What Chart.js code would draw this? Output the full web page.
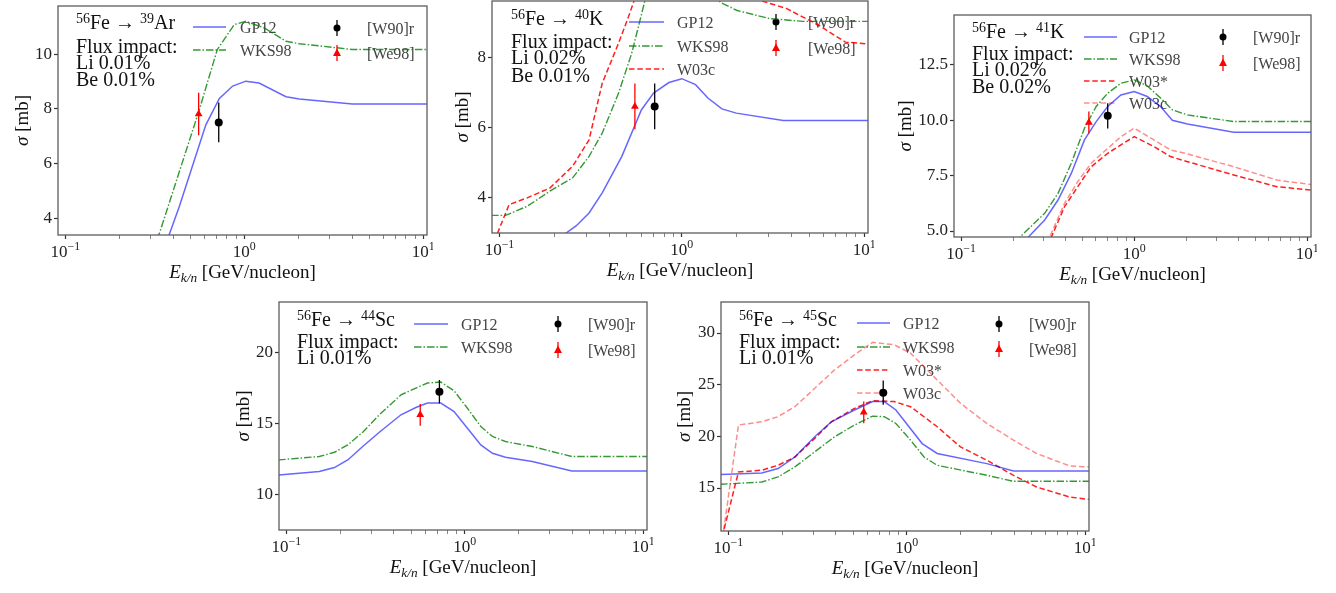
<!DOCTYPE html>
<html>
<head>
<meta charset="utf-8">
<script src="https://cdn.jsdelivr.net/npm/chart.js@4"></script>
<style>
  body { margin: 0; background: #fff; width: 1336px; height: 593px; position: relative; overflow: hidden; }
  canvas { position: absolute; }
</style>
</head>
<body>
<canvas id="c1"></canvas>
<canvas id="c2"></canvas>
<canvas id="c3"></canvas>
<canvas id="c4"></canvas>
<canvas id="c5"></canvas>
<script>
// x axis (E_k/n, GeV/nucleon), shared by all panels
const xRange = [0.091, 10.5];
const xTickVals = [0.1, 0.2, 0.3, 0.4, 0.5, 0.6, 0.7, 0.8, 0.9, 1, 2, 3, 4, 5, 6, 7, 8, 9, 10];
const xMajor = [0.1, 1, 10];
const xMajorExp = ['\u22121', '0', '1'];

// 56Fe -> 39Ar  [E, sigma]
const ar39GP12 = [[0.3, 2.3], [0.38, 3.38], [0.434, 4.43], [0.61, 7.41], [0.726, 8.38], [0.861, 8.83], [1.02, 9.01], [1.21, 8.94], [1.71, 8.44], [2.03, 8.36], [4.02, 8.17], [10.5, 8.17]];
const ar39WKS98 = [[0.3, 2.8], [0.336, 3.45], [0.56, 7.95], [0.706, 10.16], [0.879, 11.08], [1.02, 11.2], [1.3, 10.95], [1.71, 10.47], [2.03, 10.38], [4.0, 10.17], [10.5, 10.17]];
const ar39W90 = [0.72, 7.5, 0.73];     // E, sigma, error
const ar39We98 = [0.556, 7.81, 0.78];
const ar39YTicks = [4, 6, 8, 10];

// 56Fe -> 40K
const k40GP12 = [[0.2, 2.7], [0.232, 3.0], [0.263, 3.2], [0.31, 3.57], [0.366, 4.14], [0.469, 5.18], [0.6, 6.5], [0.7, 6.98], [0.85, 7.28], [1.0, 7.39], [1.19, 7.22], [1.39, 6.84], [1.66, 6.53], [1.99, 6.41], [3.6, 6.2], [10.5, 6.2]];
const k40WKS98 = [[0.09, 3.5], [0.108, 3.5], [0.142, 3.76], [0.189, 4.19], [0.252, 4.57], [0.31, 5.18], [0.366, 5.84], [0.45, 6.98], [0.531, 8.11], [0.627, 9.6], [0.75, 10.4], [1.0, 10.8], [1.3, 10.3], [1.63, 9.56], [2.01, 9.33], [3.03, 9.1], [4.62, 9.02], [10.5, 9.02]];
const k40W03c = [[0.09, 2.55], [0.113, 3.81], [0.142, 4.0], [0.189, 4.28], [0.252, 4.9], [0.31, 5.65], [0.366, 7.26], [0.45, 8.4], [0.51, 9.15], [0.6, 10.2], [0.75, 11.3], [1.0, 11.8], [1.3, 11.3], [2.0, 10.2], [2.67, 9.62], [3.74, 9.39], [5.64, 8.91], [7.89, 8.43], [10.5, 8.38]];
const k40W90 = [0.71, 6.6, 0.65];
const k40We98 = [0.553, 6.6, 0.65];
const k40YTicks = [4, 6, 8];

// 56Fe -> 41K
const k41GP12 = [[0.2, 4.0], [0.244, 4.72], [0.304, 5.5], [0.363, 6.4], [0.433, 7.6], [0.516, 9.11], [0.603, 9.94], [0.703, 10.62], [0.838, 11.14], [1.0, 11.3], [1.19, 11.07], [1.42, 10.62], [1.66, 10.0], [2.03, 9.83], [3.76, 9.46], [10.5, 9.46]];
const k41WKS98 = [[0.18, 4.1], [0.218, 4.72], [0.304, 5.8], [0.363, 6.7], [0.433, 8.06], [0.516, 9.64], [0.603, 10.62], [0.703, 11.22], [0.838, 11.67], [1.0, 11.82], [1.19, 11.55], [1.42, 11.0], [1.66, 10.47], [2.03, 10.24], [3.76, 9.94], [10.5, 9.94]];
const k41W03s = [[0.3, 4.0], [0.332, 4.72], [0.396, 6.1], [0.472, 7.0], [0.564, 7.9], [0.703, 8.51], [0.838, 8.89], [1.0, 9.26], [1.3, 8.81], [1.62, 8.36], [2.03, 8.13], [3.76, 7.53], [6.67, 7.0], [10.5, 6.85]];
const k41W03c = [[0.3, 4.1], [0.332, 4.9], [0.396, 6.25], [0.472, 7.23], [0.564, 8.06], [0.703, 8.73], [0.838, 9.26], [1.0, 9.64], [1.3, 9.11], [1.62, 8.66], [2.03, 8.48], [3.76, 7.9], [6.67, 7.3], [10.5, 7.1]];
const k41W90 = [0.703, 10.2, 0.57];
const k41We98 = [0.547, 9.9, 0.5];
const k41YTicks = [5, 7.5, 10, 12.5];

// 56Fe -> 44Sc
const sc44GP12 = [[0.09, 11.4], [0.153, 11.64], [0.186, 11.92], [0.221, 12.45], [0.268, 13.39], [0.332, 14.39], [0.439, 15.61], [0.532, 16.12], [0.618, 16.43], [0.734, 16.43], [0.871, 15.84], [1.035, 14.67], [1.23, 13.5], [1.43, 12.92], [1.69, 12.64], [2.39, 12.34], [3.98, 11.68], [10.5, 11.68]];
const sc44WKS98 = [[0.09, 12.45], [0.153, 12.69], [0.186, 12.99], [0.221, 13.5], [0.268, 14.39], [0.332, 15.61], [0.439, 17.0], [0.532, 17.48], [0.618, 17.83], [0.734, 17.9], [0.871, 17.29], [1.035, 16.07], [1.23, 14.79], [1.43, 14.09], [1.69, 13.74], [2.39, 13.39], [3.98, 12.69], [10.5, 12.69]];
const sc44W90 = [0.721, 17.22, 0.82];
const sc44We98 = [0.563, 15.61, 0.76];
const sc44YTicks = [10, 15, 20];

// 56Fe -> 45Sc
const sc45GP12 = [[0.09, 16.3], [0.154, 16.46], [0.19, 16.88], [0.236, 18.0], [0.305, 19.96], [0.378, 21.41], [0.509, 22.55], [0.644, 23.36], [0.748, 23.36], [0.869, 22.55], [1.22, 19.3], [1.48, 18.34], [2.81, 17.36], [3.96, 16.65], [10.5, 16.65]];
const sc45WKS98 = [[0.09, 15.36], [0.154, 15.58], [0.19, 16.07], [0.236, 17.04], [0.305, 18.5], [0.394, 19.96], [0.509, 21.09], [0.644, 21.96], [0.748, 21.9], [0.869, 21.25], [1.05, 19.63], [1.25, 18.0], [1.48, 17.2], [2.81, 16.23], [3.96, 15.65], [10.5, 15.65]];
const sc45W03s = [[0.09, 9.5], [0.114, 16.55], [0.154, 16.72], [0.19, 17.2], [0.236, 18.0], [0.305, 19.8], [0.378, 21.41], [0.509, 22.7], [0.644, 23.45], [0.85, 23.36], [1.05, 22.87], [1.48, 20.93], [2.0, 18.98], [2.81, 17.69], [3.96, 16.23], [5.34, 15.1], [8.18, 14.13], [10.5, 13.9]];
const sc45W03c = [[0.09, 8.5], [0.114, 21.09], [0.154, 21.41], [0.19, 21.9], [0.236, 22.87], [0.305, 24.65], [0.394, 26.43], [0.509, 27.89], [0.644, 29.1], [0.85, 28.86], [1.05, 28.05], [1.48, 25.46], [2.0, 23.2], [2.81, 21.25], [3.96, 19.63], [5.34, 18.34], [8.18, 17.14], [10.5, 17.04]];
const sc45W90 = [0.738, 24.23, 1.17];
const sc45We98 = [0.574, 22.32, 1.05];
const sc45YTicks = [15, 20, 25, 30];

const FONT = '"Liberation Serif", "DejaVu Serif", serif';
const YW = 62, PT = 14, PR = 6, XH = 62;

const styles = {
    'GP12':  { color: 'rgba(0,0,255,0.6)', dash: [], width: 1.5 },
    'WKS98': { color: 'rgba(0,128,0,0.8)', dash: [7.5, 2, 1.5, 2], width: 1.4 },
    'red':   { color: 'rgba(255,0,0,0.88)', dash: [5.5, 2.8], width: 1.5 },
    'pink':  { color: 'rgba(255,0,0,0.45)', dash: [5.5, 2.8], width: 1.5 }
};

// curves: [label, data, style]
const panels = [
    { id: 'c1', rect: [58, 6, 427, 235], y: [3.38, 11.76], yTicks: ar39YTicks, dec: 0, yOff: 36,
      iso: ['56', 'Fe \u2192 ', '39', 'Ar'], notes: ['Flux impact:', 'Li 0.01%', 'Be 0.01%'],
      curves: [['GP12', ar39GP12, 'GP12'], ['WKS98', ar39WKS98, 'WKS98']], w90: ar39W90, we98: ar39We98,
      txt: [76, [29, 53, 69, 86]], leg: [193, 226, 240, [27, 50]], mk: [337, 367, [28, 53]] },
    { id: 'c2', rect: [492, 1, 868, 233], y: [3.0, 9.6], yTicks: k40YTicks, dec: 0, yOff: 30,
      iso: ['56', 'Fe \u2192 ', '40', 'K'], notes: ['Flux impact:', 'Li 0.02%', 'Be 0.01%'],
      curves: [['GP12', k40GP12, 'GP12'], ['WKS98', k40WKS98, 'WKS98'], ['W03c', k40W03c, 'red']], w90: k40W90, we98: k40We98,
      txt: [511, [25, 48, 64, 82]], leg: [629, 664, 677, [22, 46, 69]], mk: [776, 808, [22, 48]] },
    { id: 'c3', rect: [954, 15, 1311, 237], y: [4.73, 14.75], yTicks: k41YTicks, dec: 1, yOff: 49,
      iso: ['56', 'Fe \u2192 ', '41', 'K'], notes: ['Flux impact:', 'Li 0.02%', 'Be 0.02%'],
      curves: [['GP12', k41GP12, 'GP12'], ['WKS98', k41WKS98, 'WKS98'], ['W03*', k41W03s, 'red'], ['W03c', k41W03c, 'pink']], w90: k41W90, we98: k41We98,
      txt: [972, [38, 60, 76, 93]], leg: [1084, 1117, 1129, [37, 59, 81, 103]], mk: [1223, 1253, [37, 63]] },
    { id: 'c4', rect: [279, 302, 647, 530], y: [7.55, 23.5], yTicks: sc44YTicks, dec: 0, yOff: 36,
      iso: ['56', 'Fe \u2192 ', '44', 'Sc'], notes: ['Flux impact:', 'Li 0.01%'],
      curves: [['GP12', sc44GP12, 'GP12'], ['WKS98', sc44WKS98, 'WKS98']], w90: sc44W90, we98: sc44We98,
      txt: [297, [326, 348, 364]], leg: [414, 448, 461, [324, 347]], mk: [558, 588, [324, 350]] },
    { id: 'c5', rect: [721, 302, 1089, 531], y: [10.84, 33.0], yTicks: sc45YTicks, dec: 0, yOff: 37,
      iso: ['56', 'Fe \u2192 ', '45', 'Sc'], notes: ['Flux impact:', 'Li 0.01%'],
      curves: [['GP12', sc45GP12, 'GP12'], ['WKS98', sc45WKS98, 'WKS98'], ['W03*', sc45W03s, 'red'], ['W03c', sc45W03c, 'pink']], w90: sc45W90, we98: sc45We98,
      txt: [739, [326, 348, 364]], leg: [857, 890, 903, [323, 347, 370, 393]], mk: [999, 1029, [324, 349]] }
];

// draw a sequence of text runs; runs: {t, sup, sub, it}
function runsWidth(ctx, runs, size) {
    let w = 0;
    runs.forEach(r => {
        let fs = (r.sup || r.sub) ? size * 0.7 : size;
        ctx.font = (r.it ? 'italic ' : '') + fs + 'px ' + FONT;
        w += ctx.measureText(r.t).width;
    });
    return w;
}

function drawRuns(ctx, x, y, runs, size, align, raise) {
    let cx = align === 'center' ? x - runsWidth(ctx, runs, size) / 2 : x;
    ctx.textBaseline = 'alphabetic';
    ctx.textAlign = 'left';
    runs.forEach(r => {
        let fs = (r.sup || r.sub) ? size * 0.7 : size;
        ctx.font = (r.it ? 'italic ' : '') + fs + 'px ' + FONT;
        let dy = r.sup ? -size * (raise || 0.3) : (r.sub ? size * 0.22 : 0);
        ctx.fillText(r.t, cx, y + dy);
        cx += ctx.measureText(r.t).width;
    });
}

function drawErrMarker(ctx, x, y, color, shape) {
    ctx.save();
    ctx.setLineDash([]);
    ctx.strokeStyle = color;
    ctx.fillStyle = color;
    ctx.lineWidth = 1.3;
    ctx.beginPath();
    ctx.moveTo(x, y - 8);
    ctx.lineTo(x, y + 8);
    ctx.stroke();
    ctx.beginPath();
    if (shape === 'circle') {
        ctx.arc(x, y, 3.5, 0, Math.PI * 2);
    } else {
        ctx.moveTo(x, y - 4.5);
        ctx.lineTo(x + 4, y + 3);
        ctx.lineTo(x - 4, y + 3);
        ctx.closePath();
    }
    ctx.fill();
    ctx.restore();
}

const decorPlugin = {
    id: 'decor',
    beforeDatasetsDraw(chart) {
        const p = chart.config.options.plugins.decor.panel;
        const ctx = chart.ctx;
        const ox = p.rect[0] - YW, oy = p.rect[1] - PT;
        ctx.save();
        ctx.translate(-ox, -oy);
        ctx.fillStyle = '#111';
        drawRuns(ctx, p.txt[0], p.txt[1][0], [{ t: p.iso[0], sup: true }, { t: p.iso[1] }, { t: p.iso[2], sup: true }, { t: p.iso[3] }], 20, 'left', 0.3);
        p.notes.forEach((n, i) => drawRuns(ctx, p.txt[0], p.txt[1][i + 1], [{ t: n }], 20, 'left'));
        // legend, left column: curves
        p.curves.forEach((c, i) => {
            const st = styles[c[2]];
            const yy = p.leg[3][i];
            ctx.save();
            ctx.strokeStyle = st.color;
            ctx.lineWidth = st.width;
            ctx.setLineDash(st.dash);
            ctx.beginPath();
            ctx.moveTo(p.leg[0], yy);
            ctx.lineTo(p.leg[1], yy);
            ctx.stroke();
            ctx.restore();
            ctx.fillStyle = '#444';
            drawRuns(ctx, p.leg[2], yy + 5.5, [{ t: c[0] }], 16, 'left');
        });
        // legend, right column: data
        drawErrMarker(ctx, p.mk[0], p.mk[2][0], '#000', 'circle');
        drawErrMarker(ctx, p.mk[0], p.mk[2][1], '#f00', 'triangle');
        ctx.fillStyle = '#444';
        drawRuns(ctx, p.mk[1], p.mk[2][0] + 5.5, [{ t: '[W90]r' }], 16, 'left');
        drawRuns(ctx, p.mk[1], p.mk[2][1] + 5.5, [{ t: '[We98]' }], 16, 'left');
        ctx.restore();
    },
    afterDraw(chart) {
        const p = chart.config.options.plugins.decor.panel;
        const ctx = chart.ctx;
        const a = chart.chartArea;
        const xs = chart.scales.x;
        ctx.save();
        // frame
        ctx.strokeStyle = '#5c5c5c';
        ctx.lineWidth = 1.3;
        ctx.setLineDash([]);
        ctx.strokeRect(a.left, a.top, a.right - a.left, a.bottom - a.top);
        // x tick labels 10^n
        ctx.fillStyle = '#222';
        xMajor.forEach((v, i) => {
            const px = xs.getPixelForValue(v);
            drawRuns(ctx, px, a.bottom + 22, [{ t: '10' }, { t: xMajorExp[i], sup: true }], 17, 'center', 0.42);
        });
        // axis titles
        ctx.fillStyle = '#111';
        drawRuns(ctx, (a.left + a.right) / 2, a.bottom + 43,
            [{ t: 'E', it: true }, { t: 'k/n', it: true, sub: true }, { t: ' [GeV/nucleon]' }], 19, 'center');
        ctx.translate(a.left - p.yOff, (a.top + a.bottom) / 2);
        ctx.rotate(-Math.PI / 2);
        drawRuns(ctx, 0, 6, [{ t: '\u03c3', it: true }, { t: ' [mb]' }], 19, 'center');
        ctx.restore();
    }
};

function buildDatasets(p) {
    let sets = [];
    // data points with error bars
    [[p.w90, '#000', 'circle', 4], [p.we98, '#f00', 'triangle', 4.5]].forEach(d => {
        const pt = d[0];
        sets.push({
            data: [{ x: pt[0], y: pt[1] }],
            showLine: false, pointStyle: d[2], pointRadius: d[3],
            pointBackgroundColor: d[1], pointBorderColor: d[1], pointBorderWidth: 0, order: 0
        });
        sets.push({
            data: [{ x: pt[0], y: pt[1] - pt[2] }, { x: pt[0], y: pt[1] + pt[2] }],
            borderColor: d[1], borderWidth: 1.3, pointRadius: 0, order: 1
        });
    });
    p.curves.forEach((c, i) => {
        const st = styles[c[2]];
        sets.push({
            label: c[0],
            data: c[1].map(v => ({ x: v[0], y: v[1] })),
            borderColor: st.color, borderWidth: st.width, borderDash: st.dash,
            pointRadius: 0, tension: 0, fill: false, clip: 0, order: 2 + i
        });
    });
    return sets;
}

panels.forEach(p => {
    const cv = document.getElementById(p.id);
    const w = p.rect[2] - p.rect[0] + YW + PR;
    const h = p.rect[3] - p.rect[1] + PT + XH;
    cv.width = w;
    cv.height = h;
    cv.style.left = (p.rect[0] - YW) + 'px';
    cv.style.top = (p.rect[1] - PT) + 'px';
    cv.style.width = w + 'px';
    cv.style.height = h + 'px';

    new Chart(cv, {
        type: 'line',
        data: { datasets: buildDatasets(p) },
        options: {
            responsive: false,
            animation: false,
            devicePixelRatio: 1,
            layout: { padding: { top: PT, right: PR, left: 0, bottom: 0 } },
            plugins: { legend: { display: false }, tooltip: { enabled: false }, decor: { panel: p } },
            scales: {
                x: {
                    type: 'logarithmic',
                    min: xRange[0], max: xRange[1],
                    border: { display: false },
                    grid: {
                        drawOnChartArea: false, drawTicks: true, tickLength: 4,
                        tickColor: (c) => (c.tick && xMajor.includes(c.tick.value)) ? '#333' : '#666',
                        tickWidth: (c) => (c.tick && xMajor.includes(c.tick.value)) ? 1.2 : 0.8
                    },
                    ticks: { autoSkip: false, maxRotation: 0, callback: () => '' },
                    afterBuildTicks: (s) => {
                        s.ticks = xTickVals.filter(v => v >= xRange[0] && v <= xRange[1]).map(v => ({ value: v }));
                    },
                    afterFit: (s) => { s.height = XH; }
                },
                y: {
                    type: 'linear',
                    min: p.y[0], max: p.y[1],
                    border: { display: false },
                    grid: { drawOnChartArea: false, drawTicks: true, tickLength: 4, tickColor: '#333', tickWidth: 1.2 },
                    ticks: {
                        padding: 2, color: '#222',
                        font: { family: FONT, size: 17 },
                        callback: (v) => Number(v).toFixed(p.dec)
                    },
                    afterBuildTicks: (s) => { s.ticks = p.yTicks.map(v => ({ value: v })); },
                    afterFit: (s) => { s.width = YW; }
                }
            }
        },
        plugins: [decorPlugin]
    });
});
</script>
</body>
</html>
